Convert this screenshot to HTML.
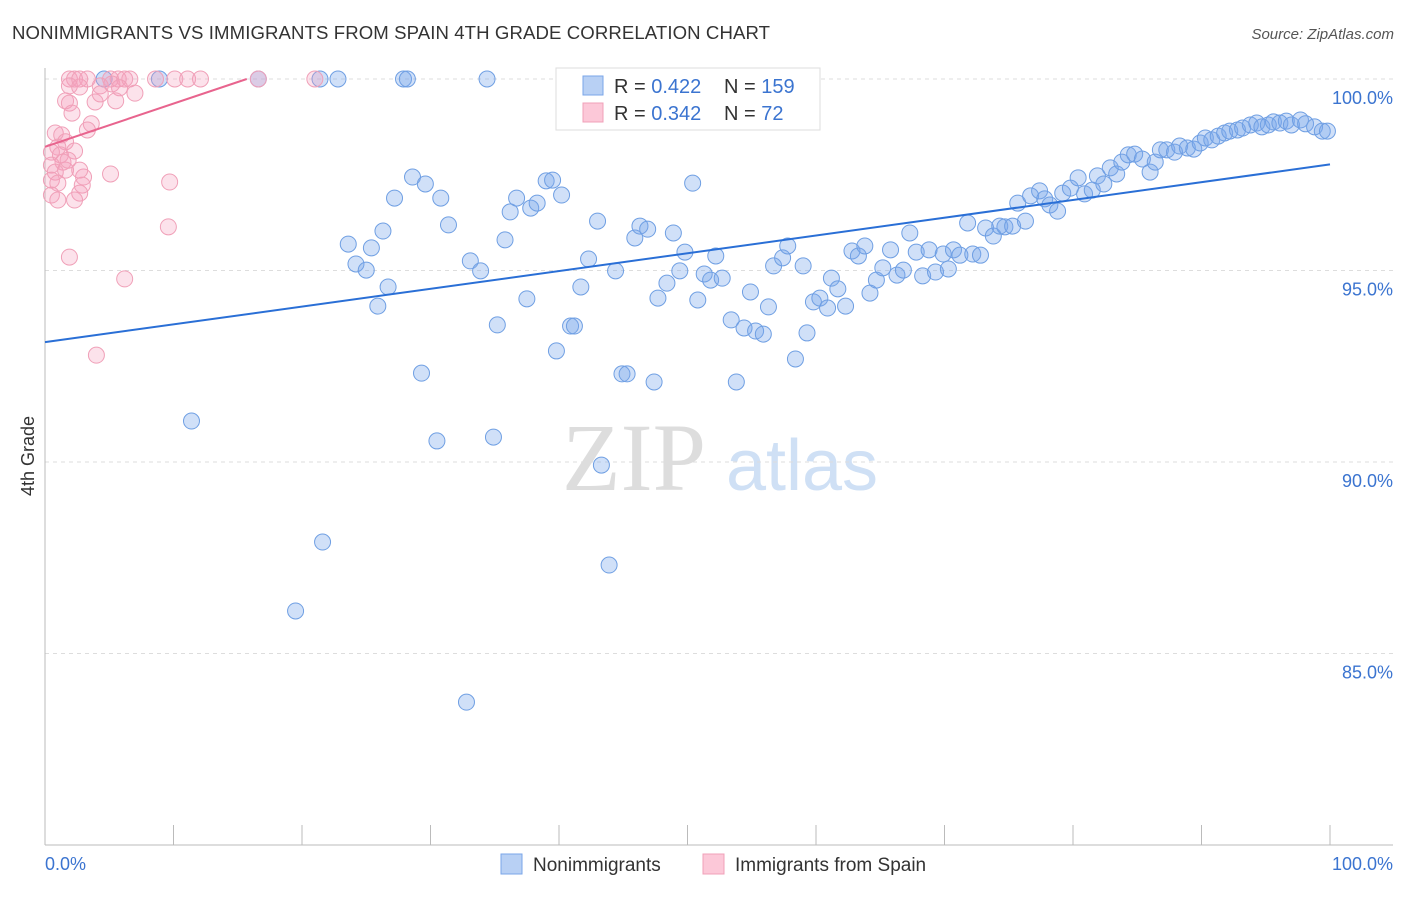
<!DOCTYPE html>
<html><head><meta charset="utf-8"><style>
body{margin:0;background:#fff;font-family:"Liberation Sans",sans-serif;}
svg text{font-family:"Liberation Sans",sans-serif;}
</style></head><body>
<svg id="chart" width="1406" height="892" xmlns="http://www.w3.org/2000/svg">
<text x="12" y="39" font-size="18.6" fill="#333" textLength="758">NONIMMIGRANTS VS IMMIGRANTS FROM SPAIN 4TH GRADE CORRELATION CHART</text>
<text x="1394" y="39" font-size="15" fill="#555" text-anchor="end" font-style="italic">Source: ZipAtlas.com</text>
<g>
<text x="634" y="490" font-size="96" fill="#ddd" text-anchor="middle" font-family="Liberation Serif" style="font-family:'Liberation Serif',serif">ZIP</text>
<text x="802" y="490" font-size="72" fill="#cfe0f5" text-anchor="middle">atlas</text>
</g>
<g id="grid"></g>
<g id="axes"></g>
<g id="pts"></g>
<g id="trends"></g>
<text transform="translate(34,456) rotate(-90)" font-size="18" fill="#333" text-anchor="middle">4th Grade</text>
<g>
<rect x="556" y="68" width="264" height="62" fill="#fff" stroke="#ddd"/>
<rect x="583" y="76" width="20" height="19" fill="#b8d0f4" stroke="#7aa6e8"/>
<rect x="583" y="103" width="20" height="19" fill="#fcc8d8" stroke="#f0a0b8"/>
<text x="614" y="93" font-size="20" fill="#333">R = <tspan fill="#3b74d0">0.422</tspan></text>
<text x="724" y="93" font-size="20" fill="#333">N = <tspan fill="#3b74d0">159</tspan></text>
<text x="614" y="120" font-size="20" fill="#333">R = <tspan fill="#3b74d0">0.342</tspan></text>
<text x="724" y="120" font-size="20" fill="#333">N = <tspan fill="#3b74d0"> 72</tspan></text>
</g>
<g>
<rect x="501" y="854" width="21" height="20" fill="#b8d0f4" stroke="#7aa6e8"/>
<text x="533" y="871" font-size="19" fill="#333">Nonimmigrants</text>
<rect x="703" y="854" width="21" height="20" fill="#fcc8d8" stroke="#f0a0b8"/>
<text x="735" y="871" font-size="19" fill="#333">Immigrants from Spain</text>
</g>
</svg>
<script>
const xTicks=[0,10,20,30,40,50,60,70,80,90,100];
const yTicks=[100,95,90,85];
const yTickLabels=["100.0%","95.0%","90.0%","85.0%"];
const blueX=[4.6,8.9,16.6,21.4,22.8,27.9,28.2,34.4,11.4,19.5,21.6,32.8,30.5,34.9,43.3,43.9,23.6,24.2,25.0,25.4,26.3,26.7,25.9,27.2,28.6,29.6,29.3,30.8,31.4,33.1,33.9,35.2,35.8,36.2,36.7,37.5,37.8,38.3,39.0,39.5,39.8,40.2,40.9,41.2,41.7,42.3,43.0,44.4,44.9,45.3,45.9,46.3,46.9,47.4,47.7,48.4,48.9,49.4,49.8,50.4,50.8,51.3,51.8,52.2,52.7,53.4,53.8,54.4,54.9,55.3,55.9,56.3,56.7,57.4,57.8,58.4,59.0,59.3,59.8,60.3,60.9,61.2,61.7,62.3,62.8,63.3,63.8,64.2,64.7,65.2,65.8,66.3,66.8,67.3,67.8,68.3,68.8,69.3,69.9,70.3,70.7,71.2,71.8,72.2,72.8,73.2,73.8,74.3,74.7,75.3,75.7,76.3,76.7,77.4,77.8,78.2,78.8,79.2,79.8,80.4,80.9,81.5,81.9,82.4,82.9,83.4,83.8,84.3,84.8,85.4,86.0,86.4,86.8,87.3,87.9,88.3,88.9,89.4,89.9,90.3,90.8,91.3,91.8,92.2,92.8,93.2,93.8,94.3,94.7,95.2,95.6,96.1,96.6,97.0,97.7,98.1,98.8,99.4,99.8];
const blueY=[100,100,100,100,100,100,100,100,91.07,86.11,87.91,83.73,90.55,90.65,89.92,87.31,95.69,95.17,95.01,95.59,96.03,94.57,94.07,96.89,97.44,97.26,92.32,96.89,96.19,95.25,94.99,93.58,95.80,96.53,96.89,94.26,96.63,96.76,97.34,97.36,92.90,96.97,93.55,93.55,94.57,95.30,96.29,94.99,92.30,92.30,95.85,96.16,96.08,92.09,94.28,94.67,95.98,94.99,95.48,97.28,94.23,94.91,94.75,95.38,94.80,93.71,92.09,93.50,94.44,93.42,93.34,94.05,95.12,95.33,95.64,92.69,95.12,93.37,94.18,94.28,94.02,94.80,94.52,94.07,95.51,95.38,95.64,94.41,94.75,95.07,95.54,94.88,95.01,95.98,95.48,94.86,95.54,94.96,95.43,95.04,95.54,95.40,96.24,95.43,95.40,96.11,95.90,96.16,96.14,96.16,96.76,96.29,96.95,97.08,96.87,96.71,96.55,97.02,97.15,97.42,97.00,97.10,97.47,97.26,97.68,97.52,97.83,98.02,98.04,97.91,97.57,97.83,98.15,98.15,98.09,98.25,98.20,98.17,98.33,98.46,98.41,98.51,98.59,98.64,98.67,98.72,98.80,98.85,98.75,98.80,98.88,98.85,98.90,98.80,98.93,98.83,98.75,98.64,98.64];
const pinkX=[1.9,2.3,2.7,3.3,5.1,5.7,6.2,6.6,8.6,10.1,11.1,12.1,16.6,21.0,1.9,2.7,4.3,5.2,5.8,7.0,1.6,1.9,3.9,5.5,4.3,2.1,3.6,3.3,0.8,1.3,1.6,1.0,2.3,0.5,1.2,1.4,0.5,0.8,1.6,0.5,1.0,3.0,2.9,2.7,0.5,1.0,2.3,5.1,9.7,9.6,1.9,6.2,4.0,2.7,1.8];
const pinkY=[100,100,100,100,100,100,100,100,100,100,100,100,100,100,99.82,99.79,99.82,99.87,99.77,99.63,99.43,99.37,99.40,99.43,99.61,99.11,98.83,98.67,98.59,98.54,98.36,98.22,98.12,98.09,98.02,97.83,97.75,97.57,97.62,97.36,97.28,97.44,97.23,97.02,96.97,96.84,96.84,97.52,97.31,96.14,95.35,94.78,92.79,97.62,97.88];
const blueTrend=[[0,93.13],[100,97.77]];
const pinkTrend=[[0,98.23],[15.7,100]];

const NS="http://www.w3.org/2000/svg";
const X0=45,X1=1330,Y100=79,PX5=191.5;
const sx=v=>X0+(X1-X0)*v/100;
const sy=v=>Y100+(100-v)*PX5/5;
function mk(tag,attrs,parent){const e=document.createElementNS(NS,tag);for(const k in attrs)e.setAttribute(k,attrs[k]);parent.appendChild(e);return e;}
const grid=document.getElementById('grid'),axes=document.getElementById('axes'),pts=document.getElementById('pts'),tr=document.getElementById('trends');
yTicks.forEach((t,i)=>{
 const l=mk('line',{x1:X0,x2:1393,y1:sy(t),y2:sy(t),stroke:'#ddd','stroke-dasharray':'4,4'},grid);
 
 
 const tx=mk('text',{x:1393,y:sy(t)+25,'font-size':18,fill:'#3b74d0','text-anchor':'end'},axes);
 tx.textContent=yTickLabels[i];
 
 
});
mk('line',{x1:X0,x2:X0,y1:68,y2:845,stroke:'#bbb'},axes);
mk('line',{x1:X0,x2:1393,y1:845,y2:845,stroke:'#bbb'},axes);
xTicks.forEach(t=>{
 const l=mk('line',{x1:sx(t),x2:sx(t),y1:825,y2:845,stroke:'#bbb'},axes);
 
 
});
const xl0=mk('text',{x:45,y:870,'font-size':18,fill:'#3b74d0'},axes);xl0.textContent='0.0%';


const xl1=mk('text',{x:1393,y:870,'font-size':18,fill:'#3b74d0','text-anchor':'end'},axes);xl1.textContent='100.0%';


blueX.forEach((v,i)=>{
 const c=mk('circle',{cx:sx(v),cy:sy(blueY[i]),r:8,fill:'rgba(120,165,235,0.35)',stroke:'#6f9fe3','stroke-width':1},pts);
 
 
});
pinkX.forEach((v,i)=>{
 const c=mk('circle',{cx:sx(v),cy:sy(pinkY[i]),r:8,fill:'rgba(245,160,190,0.3)',stroke:'#f0a0b8','stroke-width':1},pts);
 
 
});
const bl=mk('line',{x1:sx(blueTrend[0][0]),y1:sy(blueTrend[0][1]),x2:sx(blueTrend[1][0]),y2:sy(blueTrend[1][1]),stroke:'#2a6fd6','stroke-width':2},tr);


const pl=mk('line',{x1:sx(pinkTrend[0][0]),y1:sy(pinkTrend[0][1]),x2:sx(pinkTrend[1][0]),y2:sy(pinkTrend[1][1]),stroke:'#e8648e','stroke-width':2},tr);


</script>
</body></html>
